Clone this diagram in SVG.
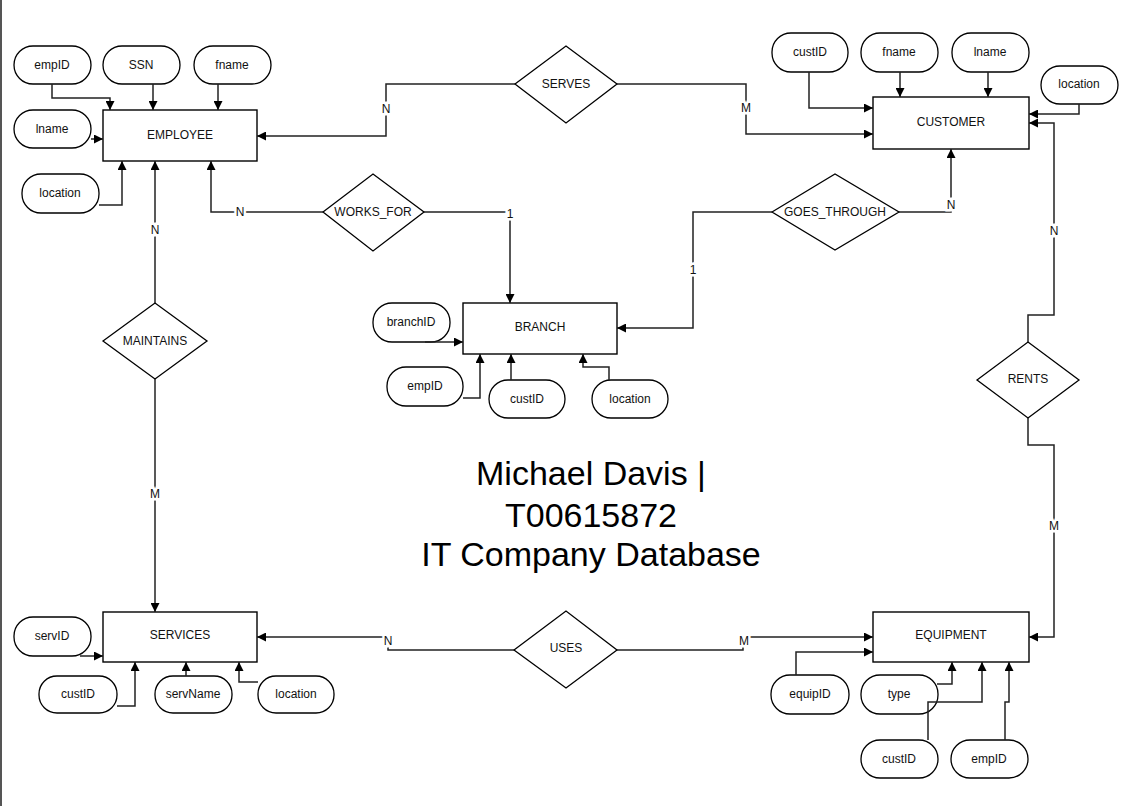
<svg xmlns="http://www.w3.org/2000/svg" width="1123" height="806" viewBox="0 0 1123 806">
<style>
.ent{fill:#fff;stroke:#000;stroke-width:1.4}
.att{fill:#fff;stroke:#000;stroke-width:1.3}
.rel{fill:#fff;stroke:#000;stroke-width:1.3}
.t{font-family:"Liberation Sans",Arial,sans-serif;font-size:12px;fill:#111;text-anchor:middle;dominant-baseline:central}
.c{fill:none;stroke:#222;stroke-width:1.5}
.ca{fill:none;stroke:#222;stroke-width:1.5;marker-end:url(#arr)}
.lbl{font-family:"Liberation Sans",Arial,sans-serif;font-size:12px;fill:#111;text-anchor:middle;dominant-baseline:central;stroke:#fff;stroke-width:5;paint-order:stroke}
.title{font-family:"Liberation Sans",Arial,sans-serif;font-size:34px;fill:#000;text-anchor:middle}
</style>
<defs>
<marker id="arr" viewBox="0 0 10 10" refX="10" refY="5" markerWidth="11" markerHeight="9" orient="auto" markerUnits="userSpaceOnUse">
<path d="M0,0 L10,5 L0,10 z" fill="#000"/>
</marker>
</defs>
<rect width="1123" height="806" fill="#fff"/>
<line x1="1" y1="0" x2="1" y2="806" stroke="#555" stroke-width="2"/>

<g id="employee"><rect class="ent" x="103" y="110" width="154" height="51"/><text class="t" x="180" y="135">EMPLOYEE</text></g>
<g id="emp-empID"><rect class="att" x="14" y="46" width="77" height="38" rx="19"/><text class="t" x="52" y="65">empID</text></g>
<g id="emp-SSN"><rect class="att" x="103" y="46" width="77" height="38" rx="19"/><text class="t" x="141" y="65">SSN</text></g>
<g id="emp-fname"><rect class="att" x="194" y="46" width="77" height="38" rx="19"/><text class="t" x="232" y="65">fname</text></g>
<g id="emp-lname"><rect class="att" x="14" y="110" width="77" height="38" rx="19"/><text class="t" x="52" y="129">lname</text></g>
<g id="emp-location"><rect class="att" x="22" y="174" width="77" height="39" rx="19"/><text class="t" x="60" y="193">location</text></g>

<g id="customer"><rect class="ent" x="873" y="97" width="156" height="52"/><text class="t" x="951" y="122">CUSTOMER</text></g>
<g id="cust-custID"><rect class="att" x="772" y="33" width="76" height="39" rx="19"/><text class="t" x="810" y="52">custID</text></g>
<g id="cust-fname"><rect class="att" x="861" y="33" width="77" height="39" rx="19"/><text class="t" x="899" y="52">fname</text></g>
<g id="cust-lname"><rect class="att" x="952" y="33" width="77" height="39" rx="19"/><text class="t" x="990" y="52">lname</text></g>
<g id="cust-location"><rect class="att" x="1041" y="66" width="77" height="38" rx="19"/><text class="t" x="1079" y="84">location</text></g>

<g id="branch"><rect class="ent" x="463" y="303" width="154" height="51"/><text class="t" x="540" y="327">BRANCH</text></g>
<g id="br-branchID"><rect class="att" x="373" y="303" width="77" height="39" rx="19"/><text class="t" x="411" y="322">branchID</text></g>
<g id="br-empID"><rect class="att" x="387" y="367" width="76" height="39" rx="19"/><text class="t" x="425" y="386">empID</text></g>
<g id="br-custID"><rect class="att" x="489" y="380" width="76" height="38" rx="19"/><text class="t" x="527" y="399">custID</text></g>
<g id="br-location"><rect class="att" x="592" y="380" width="76" height="38" rx="19"/><text class="t" x="630" y="399">location</text></g>

<g id="services"><rect class="ent" x="103" y="612" width="154" height="50"/><text class="t" x="180" y="635">SERVICES</text></g>
<g id="sv-servID"><rect class="att" x="14" y="617" width="77" height="39" rx="19"/><text class="t" x="52" y="636">servID</text></g>
<g id="sv-custID"><rect class="att" x="39" y="676" width="78" height="37" rx="18"/><text class="t" x="78" y="694">custID</text></g>
<g id="sv-servName"><rect class="att" x="155" y="676" width="77" height="37" rx="18"/><text class="t" x="193" y="694">servName</text></g>
<g id="sv-location"><rect class="att" x="258" y="676" width="76" height="37" rx="18"/><text class="t" x="296" y="694">location</text></g>

<g id="equipment"><rect class="ent" x="873" y="612" width="156" height="50"/><text class="t" x="951" y="635">EQUIPMENT</text></g>
<g id="eq-equipID"><rect class="att" x="771" y="675" width="78" height="39" rx="19"/><text class="t" x="810" y="694">equipID</text></g>
<g id="eq-type"><rect class="att" x="861" y="675" width="77" height="39" rx="19"/><text class="t" x="899" y="694">type</text></g>
<g id="eq-custID"><rect class="att" x="861" y="740" width="77" height="38" rx="19"/><text class="t" x="899" y="759">custID</text></g>
<g id="eq-empID"><rect class="att" x="951" y="740" width="77" height="38" rx="19"/><text class="t" x="989" y="759">empID</text></g>

<g id="serves"><polygon class="rel" points="515,84 566,46 617,84 566,123"/><text class="t" x="566" y="84">SERVES</text></g>
<g id="works_for"><polygon class="rel" points="323,212 373,174 424,212 373,251"/><text class="t" x="373" y="212">WORKS_FOR</text></g>
<g id="goes_through"><polygon class="rel" points="772,212 835,174 899,212 835,250"/><text class="t" x="835" y="212">GOES_THROUGH</text></g>
<g id="maintains"><polygon class="rel" points="103,341 155,303 207,341 155,379"/><text class="t" x="155" y="341">MAINTAINS</text></g>
<g id="rents"><polygon class="rel" points="977,380 1028,342 1079,380 1028,418"/><text class="t" x="1028" y="379">RENTS</text></g>
<g id="uses"><polygon class="rel" points="514,650 566,611 617,650 566,688"/><text class="t" x="566" y="648">USES</text></g>

<g id="connectors">
<path class="ca" d="M52,84 V98 H110 V110"/>
<path class="ca" d="M153,84 V110"/>
<path class="ca" d="M218,84 V110"/>
<path class="ca" d="M91,139 H103"/>
<path class="ca" d="M99,205 H122 V161"/>
<path class="ca" d="M155,303 V161"/>
<path class="ca" d="M323,212 H211 V161"/>
<path class="ca" d="M515,84 H386 V136 H257"/>
<path class="ca" d="M809,72 V108 H873"/>
<path class="ca" d="M900,72 V97"/>
<path class="ca" d="M988,72 V97"/>
<path class="ca" d="M1079,104 V114 H1029"/>
<path class="ca" d="M617,84 H746 V134 H873"/>
<path class="ca" d="M899,212 H951 V149"/>
<path class="ca" d="M1028,342 V315 H1054 V123 H1029"/>
<path class="ca" d="M424,212 H510 V303"/>
<path class="ca" d="M772,212 H693 V328 H617"/>
<path class="ca" d="M425,342 H463"/>
<path class="ca" d="M463,398 H480 V354"/>
<path class="ca" d="M511,380 V354"/>
<path class="ca" d="M609,380 V367 H583 V354"/>
<path class="ca" d="M155,379 V612"/>
<path class="ca" d="M80,656 H103"/>
<path class="ca" d="M117,706 H135 V662"/>
<path class="ca" d="M186,676 V662"/>
<path class="ca" d="M258,682 H239 V662"/>
<path class="ca" d="M514,650 H388 V637 H257"/>
<path class="ca" d="M617,650 H743 V637 H873"/>
<path class="ca" d="M796,675 V652 H873"/>
<path class="ca" d="M937,684 H952 V662"/>
<path class="ca" d="M928,740 V702 H982 V662"/>
<path class="ca" d="M1005,740 V702 H1009 V662"/>
<path class="ca" d="M1028,418 V445 H1054 V637 H1029"/>
<text class="lbl" x="386" y="109">N</text>
<text class="lbl" x="746" y="108">M</text>
<text class="lbl" x="240" y="212">N</text>
<text class="lbl" x="510" y="214">1</text>
<text class="lbl" x="693" y="270">1</text>
<text class="lbl" x="951" y="205">N</text>
<text class="lbl" x="155" y="230">N</text>
<text class="lbl" x="155" y="494">M</text>
<text class="lbl" x="1054" y="231">N</text>
<text class="lbl" x="1054" y="526">M</text>
<text class="lbl" x="388" y="641">N</text>
<text class="lbl" x="744" y="641">M</text>
</g>

<g id="title">
<text class="title" x="591" y="485">Michael Davis |</text>
<text class="title" x="591" y="527">T00615872</text>
<text class="title" x="591" y="566">IT Company Database</text>
</g>
</svg>
